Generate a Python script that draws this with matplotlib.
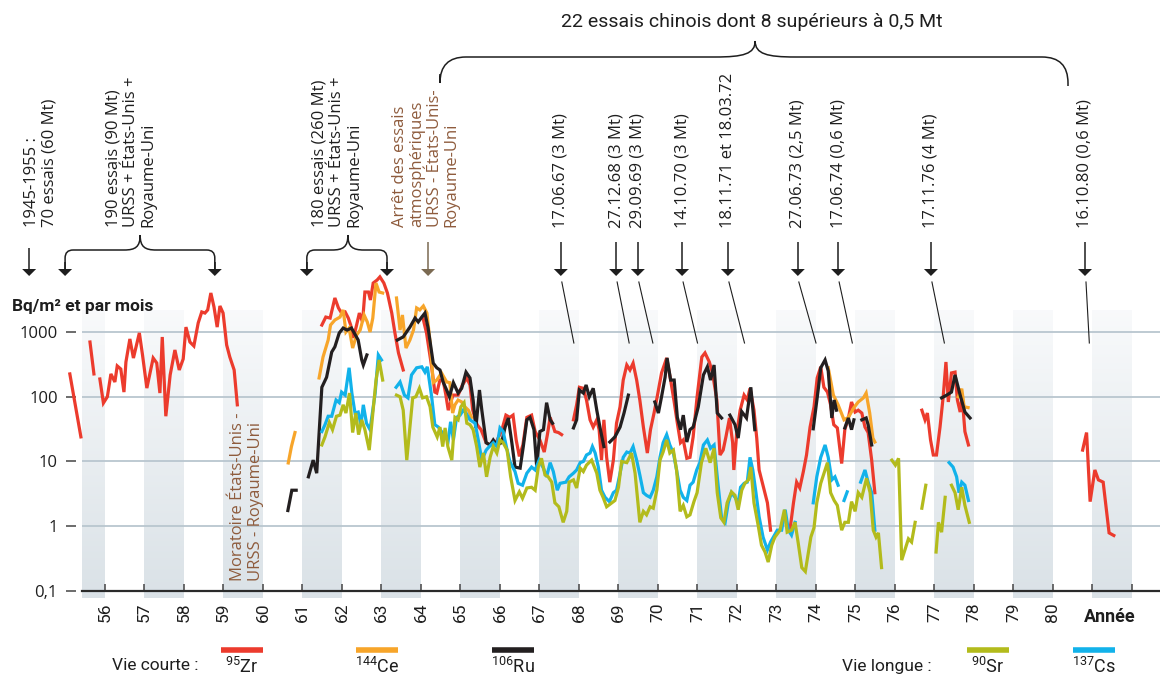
import numpy as np
import matplotlib

matplotlib.use("Agg")
import matplotlib.pyplot as plt
from matplotlib import font_manager
from matplotlib.patches import Polygon, PathPatch
from matplotlib.path import Path
from matplotlib.ticker import NullLocator

nan = np.nan

# ---------------------------------------------------------------------------
# Monthly deposition (Bq/m² per month). One sub-list per unbroken stretch.
# ---------------------------------------------------------------------------
zr95_years = [
    [1955.11, 1955.39],
    [1955.62, 1955.72],
    [1955.87, 1955.96, 1956.06, 1956.15, 1956.25, 1956.31, 1956.40, 1956.48, 1956.53, 1956.63,
     1956.72, 1956.87, 1956.95, 1957.06, 1957.22, 1957.31, 1957.39, 1957.45, 1957.54, 1957.65,
     1957.77, 1957.88, 1957.98, 1958.05, 1958.15, 1958.25, 1958.36, 1958.45, 1958.53, 1958.60,
     1958.68, 1958.76, 1958.84, 1958.91, 1958.99, 1959.08, 1959.16, 1959.27, 1959.35],
    [1961.49, 1961.59, 1961.70, 1961.82, 1961.91, 1961.99, 1962.08, 1962.16, 1962.22, 1962.29,
     1962.37, 1962.44, 1962.52, 1962.58, 1962.67, 1962.72, 1962.79, 1962.89, 1962.96, 1963.06,
     1963.15, 1963.26, 1963.34, 1963.43, 1963.55],
    [1964.05, 1964.14, 1964.27, 1964.35, 1964.40, 1964.48, 1964.56, 1964.63, 1964.69, 1964.81,
     1964.94, 1965.05, 1965.16, 1965.24, 1965.31, 1965.42, 1965.52, 1965.65, 1965.75, 1965.90,
     1966.05, 1966.15, 1966.25, 1966.33, 1966.41, 1966.49, 1966.58, 1966.68, 1966.80, 1966.89,
     1967.01, 1967.12, 1967.20, 1967.27, 1967.39, 1967.48, 1967.56],
    [1967.86, 1967.94, 1968.01, 1968.11, 1968.19, 1968.28, 1968.36, 1968.45, 1968.51, 1968.57,
     1968.63, 1968.70, 1968.78, 1968.87, 1968.95, 1969.04, 1969.12, 1969.21, 1969.29, 1969.37,
     1969.46, 1969.54, 1969.63, 1969.73, 1969.81, 1969.90, 1969.98, 1970.09, 1970.22, 1970.32,
     1970.41, 1970.49, 1970.57, 1970.64, 1970.73, 1970.81, 1970.89, 1970.99, 1971.11, 1971.19,
     1971.30, 1971.38, 1971.49, 1971.57, 1971.65, 1971.72, 1971.81, 1971.89, 1971.92, 1971.99,
     1972.08, 1972.18, 1972.26, 1972.33, 1972.43, 1972.50, 1972.56, 1972.67, 1972.77, 1972.85],
    [1973.34, 1973.43, 1973.51, 1973.59, 1973.68, 1973.76, 1973.85, 1973.95, 1974.03, 1974.12,
     1974.20, 1974.29, 1974.37, 1974.45, 1974.54, 1974.65, 1974.73, 1974.82, 1974.90, 1974.99,
     1975.07, 1975.16, 1975.24, 1975.32, 1975.41, 1975.49],
    [1976.68, 1976.76, 1976.82, 1976.90, 1976.97, 1977.05, 1977.14, 1977.22, 1977.29, 1977.35,
     1977.43, 1977.52, 1977.58, 1977.65, 1977.70, 1977.77, 1977.86],
    [1980.75, 1980.85, 1980.94, 1981.06, 1981.15, 1981.27, 1981.42, 1981.54],
]
zr95_values = [
    [225, 24],
    [700, 225],
    [188, 80, 100, 225, 169, 299, 268, 118, 344, 780,
     396, 966, 442, 136, 396, 332, 114, 837, 50, 217,
     527, 259, 383, 1190, 700, 608, 1380, 2040, 1960, 2190,
     4000, 2430, 1190, 2520, 1960, 630, 411, 259, 75],
    [1280, 1700, 1640, 3350, 2350, 1960, 2040, 1640, 1280, 810,
     1280, 1960, 1430, 4140, 4140, 3120, 5700, 6350, 7100, 5700,
     4000, 1960, 965, 475, 259],
    [1640, 965, 290, 118, 114, 181, 181, 106, 62, 106,
     106, 152, 195, 152, 62, 37, 31, 19.5, 18, 19.5,
     31, 52, 48, 52, 21.5, 12, 18, 48, 52, 29,
     21.5, 14, 26, 48, 29, 28, 26],
    [44, 75, 140, 135, 89, 44, 34, 44, 31, 10.5,
     44, 11.6, 4.8, 10.5, 39, 70, 181, 309, 259, 330,
     181, 89, 34, 13.5, 31, 56, 100, 233, 397, 181,
     83, 39, 19.5, 21.5, 11.2, 11.6, 24, 100, 411, 475,
     344, 233, 89, 12.6, 15, 24, 47, 19.5, 7.4, 26,
     62, 106, 89, 135, 62, 23, 7.4, 4.0, 2.3, 0.87],
    [0.87, 2.3, 4.8, 3.9, 7.0, 12.6, 34, 70, 195, 290,
     140, 118, 75, 37, 33, 9.3, 31, 47, 83, 58,
     62, 56, 34, 28, 10.5, 3.3],
    [62, 44, 56, 21.5, 12.6, 12.6, 34, 100, 344, 83,
     233, 240, 89, 58, 100, 29, 18],
    [15, 28, 2.4, 7.4, 5.2, 4.8, 0.79, 0.72],
]

ce144_years = [
    [1960.64, 1960.72, 1960.81],
    [1961.42, 1961.52, 1961.65, 1961.71, 1961.82, 1961.95, 1962.03, 1962.10, 1962.18, 1962.27,
     1962.37, 1962.46, 1962.56, 1962.64, 1962.71, 1962.78, 1962.86, 1962.94, 1963.03],
    [1963.38, 1963.47, 1963.53, 1963.62, 1963.72, 1963.81, 1963.89, 1963.97, 1964.06, 1964.15,
     1964.23, 1964.31, 1964.40, 1964.52, 1964.65, 1964.73, 1964.80, 1964.86, 1964.94, 1965.03,
     1965.11, 1965.20, 1965.28],
    [1974.31, 1974.44, 1974.56, 1974.71, 1974.82, 1974.96, 1975.07, 1975.20, 1975.27, 1975.36,
     1975.44, 1975.49],
    [1977.60, 1977.69, 1977.75, 1977.85],
]
ce144_values = [
    [9.5, 17, 28],
    [195, 411, 752, 1280, 1530, 1700, 2190, 1000, 1150, 565,
     900, 1070, 1830, 1430, 1000, 1640, 5700, 4140, 4000],
    [3350, 1070, 1830, 565, 752, 1070, 2350, 2190, 2520, 1960,
     700, 165, 181, 233, 169, 165, 56, 75, 89, 83,
     70, 62, 48],
    [280, 106, 75, 44, 48, 68, 83, 96, 114, 56, 23, 20],
    [100, 133, 70, 68],
]

ru106_years = [
    [1960.63, 1960.73, 1960.84],
    [1961.15, 1961.27, 1961.36, 1961.49, 1961.61, 1961.74, 1961.82, 1961.93, 1962.03, 1962.13,
     1962.24, 1962.41, 1962.50, 1962.54, 1962.63],
    [1963.40, 1963.55, 1963.72, 1963.85, 1963.93, 1964.02, 1964.10, 1964.18, 1964.31, 1964.40,
     1964.48, 1964.56, 1964.65, 1964.72, 1964.82, 1964.94, 1965.03, 1965.14, 1965.24, 1965.32,
     1965.39, 1965.48, 1965.54, 1965.65, 1965.75, 1965.83, 1965.92, 1966.04, 1966.13, 1966.21,
     1966.30, 1966.38, 1966.51, 1966.59, 1966.68, 1966.76, 1966.86, 1966.93, 1967.01, 1967.10,
     1967.18, 1967.27, 1967.33],
    [1967.86, 1967.94, 1968.01, 1968.11, 1968.18, 1968.26, 1968.36, 1968.45, 1968.53, 1968.63],
    [1968.78, 1968.91, 1969.04, 1969.14, 1969.25],
    [1969.92, 1970.01, 1970.09, 1970.18, 1970.23, 1970.32, 1970.41, 1970.49, 1970.57, 1970.64,
     1970.73, 1970.81, 1970.89, 1971.02, 1971.15, 1971.25, 1971.33, 1971.42, 1971.50, 1971.61],
    [1971.82, 1971.95, 1972.03, 1972.12, 1972.24, 1972.35, 1972.45],
    [1973.93, 1974.06, 1974.12, 1974.23, 1974.31, 1974.40, 1974.46, 1974.52],
    [1974.73, 1974.82, 1974.90, 1974.96],
    [1975.16, 1975.27, 1975.32, 1975.41],
    [1977.18, 1977.31, 1977.43, 1977.52, 1977.65, 1977.77, 1977.90],
]
ru106_values = [
    [1.75, 3.6, 3.6],
    [5.8, 10.5, 6.6, 140, 200, 490, 590, 965, 1150, 1070,
     1150, 752, 370, 309, 442],
    [750, 840, 1190, 1640, 1430, 1700, 1960, 1150, 330, 280,
     259, 169, 127, 100, 165, 114, 135, 240, 195, 89,
     33, 127, 62, 19.5, 18, 21.5, 18, 19.5, 34, 47,
     19.5, 8.2, 7.9, 17, 44, 48, 31, 8.2, 29, 31,
     81, 44, 39],
    [33, 44, 127, 114, 152, 100, 135, 62, 34, 17],
    [20, 24, 34, 56, 106],
    [83, 56, 100, 200, 397, 181, 181, 48, 31, 52,
     20, 31, 34, 70, 217, 290, 181, 309, 56, 47],
    [52, 37, 23, 59, 47, 140, 31],
    [32, 135, 280, 370, 250, 47, 89, 62],
    [33, 47, 31, 44],
    [44, 47, 37, 18],
    [96, 106, 118, 217, 106, 58, 47],
]

cs137_years = [
    [1961.49, 1961.57, 1961.65, 1961.74, 1961.85, 1961.93, 1961.99, 1962.08, 1962.18, 1962.25,
     1962.33, 1962.41, 1962.48, 1962.54, 1962.62, 1962.71, 1962.84, 1962.92, 1963.00],
    [1963.37, 1963.47, 1963.58, 1963.67, 1963.76, 1963.89, 1964.02, 1964.10, 1964.16, 1964.27,
     1964.35, 1964.44, 1964.52, 1964.61, 1964.69, 1964.75, 1964.82, 1964.90, 1964.99, 1965.07,
     1965.14, 1965.24, 1965.37, 1965.45, 1965.54, 1965.65, 1965.73, 1965.83, 1965.92, 1966.00,
     1966.08, 1966.17, 1966.25, 1966.38, 1966.46, 1966.57, 1966.68, 1966.80, 1966.89, 1966.99,
     1967.10, 1967.18, 1967.27, 1967.35, 1967.45, 1967.52, 1967.67, 1967.75, 1967.86, 1967.94,
     1968.03, 1968.11, 1968.19, 1968.28, 1968.34, 1968.41, 1968.49, 1968.57, 1968.66, 1968.77,
     1968.87, 1968.95, 1969.04, 1969.12, 1969.21, 1969.29, 1969.37, 1969.46, 1969.54, 1969.63,
     1969.71, 1969.80, 1969.88, 1969.97, 1970.05, 1970.13, 1970.22, 1970.30, 1970.39, 1970.47,
     1970.56, 1970.64, 1970.73, 1970.81, 1970.89, 1970.98, 1971.06, 1971.15, 1971.25, 1971.33,
     1971.42, 1971.50, 1971.61, 1971.70, 1971.78, 1971.86, 1971.95, 1972.03, 1972.09, 1972.18,
     1972.26, 1972.33, 1972.40, 1972.48, 1972.56, 1972.66, 1972.77, 1972.85, 1972.92, 1973.02,
     1973.13, 1973.22, 1973.30, 1973.38, 1973.47],
    [1973.93, 1974.02, 1974.12, 1974.23, 1974.31, 1974.40, 1974.48, 1974.56],
    [1974.71, 1974.79],
    [1975.13, 1975.24, 1975.32, 1975.41, 1975.49],
    [1977.37, 1977.47, 1977.56, 1977.62, 1977.69, 1977.77, 1977.86],
]
cs137_values = [
    [29, 37, 50, 50, 89, 81, 118, 106, 280, 114,
     56, 58, 37, 75, 39, 31, 114, 442, 370],
    [140, 169, 106, 96, 217, 280, 290, 240, 290, 100,
     37, 34, 29, 26, 21.5, 41, 21.5, 48, 52, 62,
     56, 44, 39, 21.5, 10.5, 15, 17, 19.5, 17, 33,
     29, 16, 10, 7.0, 4.6, 4.3, 6.6, 8.2, 7.4, 10.5,
     7.9, 5.8, 9.6, 7.0, 3.6, 4.6, 4.8, 5.8, 6.6, 7.4,
     9.6, 10, 12.6, 13.5, 17, 13.5, 8.2, 3.6, 2.8, 2.4,
     3.3, 3.6, 6.6, 11.6, 14, 13.5, 17, 10.5, 6.2, 3.3,
     3.0, 2.8, 3.6, 5.8, 11.6, 19.5, 26, 18, 13.5, 7.4,
     3.6, 2.8, 2.5, 4.3, 4.8, 7.4, 9.6, 18, 21.5, 16,
     18, 5.8, 1.35, 1.15, 2.3, 3.3, 2.8, 2.3, 4.0, 4.6,
     4.8, 11.6, 7.4, 3.3, 1.4, 0.68, 0.43, 0.57, 0.68, 0.87,
     0.87, 1.8, 0.87, 0.73, 1.15],
    [2.3, 5.8, 11.6, 18, 11.6, 5.2, 5.8, 4.3],
    [2.5, 3.4],
    [4.8, 7.4, 4.8, 3.3, 0.87],
    [9.6, 8.2, 5.8, 3.3, 4.8, 4.3, 2.5],
]

sr90_years = [
    [1961.49, 1961.57, 1961.68, 1961.76, 1961.86, 1961.95, 1962.03, 1962.10, 1962.19, 1962.27,
     1962.35, 1962.42, 1962.50, 1962.58, 1962.69, 1962.78, 1962.86, 1962.94, 1963.03],
    [1963.38, 1963.47, 1963.55, 1963.64, 1963.72, 1963.79, 1963.87, 1963.96, 1964.04, 1964.14,
     1964.23, 1964.30, 1964.41, 1964.48, 1964.55, 1964.61, 1964.68, 1964.78, 1964.86, 1964.94,
     1965.01, 1965.09, 1965.16, 1965.24, 1965.32, 1965.41, 1965.49, 1965.58, 1965.66, 1965.75,
     1965.83, 1965.92, 1966.00, 1966.08, 1966.18, 1966.27, 1966.38, 1966.49, 1966.57, 1966.68,
     1966.80, 1966.89, 1966.97, 1967.05, 1967.14, 1967.22, 1967.31, 1967.39, 1967.49, 1967.60,
     1967.69, 1967.75, 1967.86, 1967.94, 1968.03, 1968.11, 1968.19, 1968.32, 1968.45, 1968.53,
     1968.61, 1968.70, 1968.83, 1968.91, 1969.00, 1969.08, 1969.21, 1969.33, 1969.42, 1969.54,
     1969.63, 1969.71, 1969.80, 1969.88, 1969.97, 1970.05, 1970.13, 1970.22, 1970.30, 1970.39,
     1970.47, 1970.56, 1970.64, 1970.73, 1970.81, 1970.91, 1970.99, 1971.10, 1971.21, 1971.32,
     1971.42, 1971.50, 1971.59, 1971.67, 1971.75, 1971.86, 1971.95, 1972.03, 1972.12, 1972.20,
     1972.29, 1972.35, 1972.43, 1972.54, 1972.62, 1972.71, 1972.79, 1972.88, 1972.96, 1973.09,
     1973.20, 1973.27, 1973.38, 1973.47, 1973.55, 1973.64, 1973.73, 1973.81, 1973.87, 1973.95,
     1974.02, 1974.12, 1974.23, 1974.29, 1974.37, 1974.46, 1974.54, 1974.65, 1974.73, 1974.82,
     1974.90, 1974.99, 1975.07, 1975.16, 1975.28, 1975.37, 1975.45, 1975.52, 1975.58, 1975.62,
     1975.66],
    [1975.92, 1976.01, 1976.09, 1976.17, 1976.25, 1976.34, 1976.42, 1976.51],
    [1976.68, 1976.78],
    [1977.04, 1977.10, 1977.18, 1977.27],
    [1977.43, 1977.52, 1977.60, 1977.69, 1977.77, 1977.88],
]
sr90_values = [
    [18, 24, 40, 31, 50, 52, 75, 56, 114, 28,
     56, 26, 44, 31, 15, 56, 175, 370, 181],
    [106, 100, 62, 10.5, 34, 96, 100, 135, 96, 100,
     70, 34, 24, 34, 17, 33, 17, 10.5, 48, 44,
     70, 81, 39, 37, 31, 17, 8.2, 13.5, 5.8, 11.6,
     17, 13.5, 21.5, 19.5, 15, 5.8, 2.5, 3.4, 2.7, 3.9,
     4.0, 3.6, 8.2, 11.2, 6.2, 5.8, 4.8, 2.3, 2.0, 1.15,
     1.7, 4.8, 5.2, 3.9, 7.9, 7.0, 8.8, 10.5, 6.6, 3.6,
     2.8, 2.0, 2.3, 2.5, 4.0, 10, 9.6, 13.5, 6.6, 1.15,
     1.7, 1.5, 2.0, 1.9, 3.6, 10.5, 14, 21.5, 13.5, 15,
     7.4, 1.7, 2.1, 1.4, 1.5, 2.4, 3.3, 9.6, 16, 9.6,
     16, 3.3, 1.35, 1.15, 2.3, 3.4, 3.0, 1.8, 3.6, 4.6,
     5.2, 8.2, 2.3, 1.0, 0.51, 0.40, 0.28, 0.51, 0.68, 0.87,
     1.8, 0.81, 0.87, 1.15, 0.55, 0.23, 0.20, 0.40, 0.68, 0.95,
     2.3, 4.6, 7.4, 9.6, 3.3, 2.5, 2.1, 0.87, 1.15, 1.15,
     2.4, 1.7, 3.3, 2.8, 5.5, 3.3, 0.87, 0.68, 0.79, 0.43,
     0.23],
    [10.5, 8.8, 11.2, 0.30, 0.43, 0.64, 0.57, 1.15],
    [1.9, 4.3],
    [0.40, 1.15, 0.81, 2.8],
    [4.3, 3.3, 1.8, 4.0, 2.1, 1.15],
]

# test events (decimal years)
chinese_labels = ["17.06.67 (3 Mt)", "27.12.68 (3 Mt)", "29.09.69 (3 Mt)", "14.10.70 (3 Mt)",
                  "18.11.71 et 18.03.72", "27.06.73 (2,5 Mt)", "17.06.74 (0,6 Mt)",
                  "17.11.76 (4 Mt)", "16.10.80 (0,6 Mt)"]
chinese_arrow_years = [1967.54, 1968.94, 1969.49, 1970.61, 1971.77, 1973.54, 1974.56, 1976.91, 1980.81]
chinese_fallout_years = [1967.87, 1969.27, 1969.87, 1971.00, 1972.19, 1974.00, 1974.92, 1977.25, 1980.92]

early_tests_year = 1954.08
series1_span = (1954.99, 1958.78, 1956.89)      # left, right, brace tip
series2_span = (1961.11, 1963.14, 1962.15)
treaty_year = 1964.18
chinese_span = (1964.48, 1980.38, 1972.46)

year_ticks = list(range(1956, 1983))
year_labels = [str(y - 1900) if y <= 1980 else "" for y in year_ticks]
y_ticks = [0.1, 1, 10, 100, 1000]
y_labels = ["0,1", "1", "10", "100", "1000"]

# ---------------------------------------------------------------------------
names = {f.name for f in font_manager.fontManager.ttflist}
NARROW = next(n for n in ["Liberation Sans Narrow", "Roboto", "DejaVu Sans"] if n in names)
ROUND = "Open Sans" if "Open Sans" in names else "DejaVu Sans"
plt.rcParams["font.family"] = [NARROW, "DejaVu Sans"]
plt.rcParams["mathtext.fontset"] = "custom"
plt.rcParams["mathtext.rm"] = NARROW

RED, ORANGE, BLACK, OLIVE, BLUE = "#ec3b2d", "#f7a52a", "#231f20", "#b3bb1c", "#12b2ea"
BROWN = "#8e5b3c"
GRID = "#b9c6cf"
INK = "#1e1e1e"

W, H = 1160, 675
fig = plt.figure(figsize=(W / 100, H / 100), dpi=100)

# plot frame: pixel rows 250..598, left edge at x=66
X0, X1 = 1955.013, 1982.709
Y_MIN, Y_MAX = 0.078, 18450
BAND_START = 1955.42
frame = [66 / W, (H - 598) / H, (W - 66) / W, (598 - 250) / H]

bg = fig.add_axes(frame, zorder=0)
bg.set_xlim(X0, X1)
bg.set_ylim(598, 250)
bg.axis("off")
top_rgb = np.array([0.975, 0.98, 0.985])
bot_rgb = np.array([0.855, 0.885, 0.905])
grad = np.linspace(0, 1, 200)[:, None, None] * (bot_rgb - top_rgb) + top_rgb
for yr in range(1955, 1982, 2):
    bg.imshow(grad, extent=(max(yr, BAND_START), yr + 1, 598, 310), aspect="auto",
              interpolation="bilinear", zorder=0)

ax = fig.add_axes(frame, zorder=1)
ax.patch.set_alpha(0)
ax.set_yscale("log")
ax.set_xlim(X0, X1)
ax.set_ylim(Y_MIN, Y_MAX)
ax.hlines([1, 10, 100, 1000], BAND_START, X1, color=GRID, lw=1.3, zorder=1)

for sp in ["top", "right", "left"]:
    ax.spines[sp].set_visible(False)
ax.spines["bottom"].set_position(("data", 0.1))
ax.spines["bottom"].set_bounds(BAND_START, X1)
ax.spines["bottom"].set_color("#2a2a2a")
ax.spines["bottom"].set_linewidth(1.6)

ax.set_xticks(year_ticks)
ax.set_xticklabels(year_labels, rotation=90, fontsize=12.5, color=INK)
ax.tick_params(axis="x", direction="in", length=5, width=1.1, color="#444", pad=8)
ax.set_yticks(y_ticks)
ax.set_yticklabels(y_labels, fontsize=12, color=INK, family=ROUND)
ax.yaxis.set_minor_locator(NullLocator())
ax.tick_params(axis="y", direction="in", length=7.5, width=1.1, color="#444", pad=6)


def joined(segments):
    out = []
    for seg in segments:
        out.extend(seg)
        out.append(nan)
    return out


for yrs, vals, col, z in [(zr95_years, zr95_values, RED, 3),
                          (ce144_years, ce144_values, ORANGE, 4),
                          (ru106_years, ru106_values, BLACK, 5),
                          (cs137_years, cs137_values, BLUE, 6),
                          (sr90_years, sr90_values, OLIVE, 7)]:
    ax.plot(joined(yrs), joined(vals), color=col, lw=2.3, zorder=z, clip_on=False,
            solid_joinstyle="miter")

# ---------------------------------------------------------------------------
# annotation layer, in canvas pixels (y downwards)
ov = fig.add_axes([0, 0, 1, 1], zorder=2)
ov.set_xlim(0, W)
ov.set_ylim(H, 0)
ov.axis("off")


def px(year):
    return ax.transData.transform((year, 1.0))[0]


def down_arrow(x, y_top, color=INK, tip=276):
    ov.plot([x, x], [y_top, tip - 5], color=color, lw=1.1, solid_capstyle="butt")
    ov.add_patch(Polygon([[x - 7, tip - 7], [x + 7, tip - 7], [x, tip]], closed=True,
                         facecolor=color, edgecolor="none"))


def brace(xl, xr, xc, y_line, y_tip, y_left, y_right, r=8, s=16):
    verts = [(xl, y_left), (xl, y_line + r), (xl, y_line), (xl + r, y_line),
             (xc - s, y_line), (xc - s * 0.3, y_line), (xc, y_line - 3), (xc, y_tip),
             (xc, y_line - 3), (xc + s * 0.3, y_line), (xc + s, y_line),
             (xr - r, y_line), (xr, y_line), (xr, y_line + r), (xr, y_right)]
    codes = [Path.MOVETO, Path.LINETO, Path.CURVE3, Path.CURVE3,
             Path.LINETO, Path.CURVE4, Path.CURVE4, Path.CURVE4,
             Path.CURVE4, Path.CURVE4, Path.CURVE4,
             Path.LINETO, Path.CURVE3, Path.CURVE3, Path.LINETO]
    ov.add_patch(PathPatch(Path(verts, codes), facecolor="none", edgecolor=INK, lw=1.1))


vtext = dict(rotation=90, ha="center", va="bottom", multialignment="left",
             fontsize=12, family=ROUND, linespacing=1.1, color=INK)

# 1945-1955
down_arrow(px(early_tests_year), 248)
ov.text(41, 227, "1945-1955 :\n70 essais (60 Mt)", **vtext)

# 1956-1958 and 1961-1962 series
for (l, r, c), label, tx in [(series1_span, "190 essais (90 Mt)\nURSS + États-Unis +\nRoyaume-Uni", 131),
                             (series2_span, "180 essais (260 Mt)\nURSS + États-Unis +\nRoyaume-Uni", 337)]:
    xl, xr, xc = px(l), px(r), px(c)
    brace(xl, xr, xc, 250, 235, 270, 270)
    down_arrow(xl, 262)
    down_arrow(xr, 262)
    ov.text(tx, 227, label, **vtext)

# partial test ban treaty
down_arrow(px(treaty_year), 242, color="#7b6a52")
ov.text(426, 227, "Arrêt des essais\natmosphériques\nURSS - États-Unis-\nRoyaume-Uni",
        **{**vtext, "color": BROWN})
ov.text(247, 581, "Moratoire États-Unis -\nURSS - Royaume-Uni", **{**vtext, "color": BROWN})

# Chinese tests
for label, ay, fy in zip(chinese_labels, chinese_arrow_years, chinese_fallout_years):
    x = px(ay)
    down_arrow(x, 242)
    ov.text(x, 228, label, **vtext)
    ov.plot([x + 1, px(fy)], [282, 343], color=INK, lw=0.8)

l, r, c = chinese_span
brace(px(l), px(r), px(c), 57, 41, 74, 86, r=26, s=40)
ov.text(752, 22, "22 essais chinois dont 8 supérieurs à 0,5 Mt", ha="center", va="center",
        fontsize=14, color=INK)

# axis captions
ov.text(12, 307, "Bq/m² et par mois", ha="left", va="center", fontsize=12.5,
        fontweight="bold", color=INK)
ov.text(1110, 617, "Année", ha="center", va="center", fontsize=13, fontweight="bold", color=INK)

# legend
ov.text(112, 666, "Vie courte :", ha="left", va="center", fontsize=12.5, color=INK)
ov.text(842, 666, "Vie longue :", ha="left", va="center", fontsize=12.5, color=INK)
for x, col, lab in [(221, RED, r"$^{95}$Zr"), (356, ORANGE, r"$^{144}$Ce"), (492, BLACK, r"$^{106}$Ru"),
                    (967, OLIVE, r"$^{90}$Sr"), (1073, BLUE, r"$^{137}$Cs")]:
    ov.plot([x, x + 42], [650, 650], color=col, lw=4, solid_capstyle="butt")
    ov.text(x + 21, 667, lab, ha="center", va="center", fontsize=13, color=INK)

fig.savefig("out.png", dpi=100)
